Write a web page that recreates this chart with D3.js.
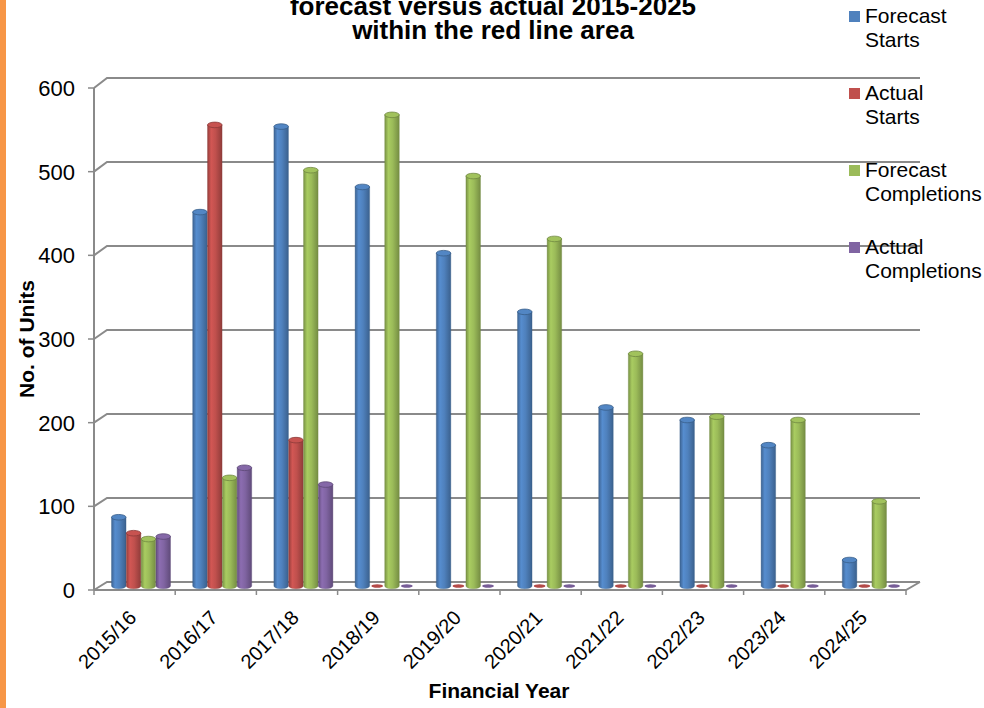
<!DOCTYPE html>
<html>
<head>
<meta charset="utf-8">
<script src="https://cdn.jsdelivr.net/npm/d3@7"></script>
<style>
  body { margin: 0; background: #fff; }
  svg { display: block; font-family: "Liberation Sans", Arial, sans-serif; }
</style>
</head>
<body>
<svg width="984" height="708"></svg>
<script>
// data
var years = ["2015/16","2016/17","2017/18","2018/19","2019/20","2020/21","2021/22","2022/23","2023/24","2024/25"];
var forecastStarts = [82, 446, 548, 476, 397, 327, 213, 198, 168, 31];
var actualStarts = [63, 550, 174, 0, 0, 0, 0, 0, 0, 0];
var forecastCompletions = [56, 129, 496, 562, 489, 414, 277, 202, 198, 101];
var actualCompletions = [59, 141, 121, 0, 0, 0, 0, 0, 0, 0];
var seriesNames = ["Forecast Starts", "Actual Starts", "Forecast Completions", "Actual Completions"];
var yTicks = [0, 100, 200, 300, 400, 500, 600];

var colors = ["#4F81BD", "#C0504D", "#9BBB59", "#8064A2"];
var allSeries = [forecastStarts, actualStarts, forecastCompletions, actualCompletions];

var svg = d3.select("svg");

// depth of the 3d box
var dx = 13, dy = -9;
var gridCol = "#8a8a8a";

var xScale = d3.scaleBand().domain(years).range([94, 906]);
var yFront = d3.scaleLinear().domain([0, 600]).range([590, 88]);
var yBack = d3.scaleLinear().domain([0, 600]).range([582, 78]);
var yMid = d3.scaleLinear().domain([0, 600]).range([586, 83]);
var sScale = d3.scaleBand().domain(seriesNames).range([11, 70]).paddingInner(0.02);

// orange strip on the left
svg.append("rect").attr("x", 0).attr("y", 0).attr("width", 6).attr("height", 708).attr("fill", "#F79646");

// gradients for the cylinders
var defs = svg.append("defs");
colors.forEach(function(c, i) {
  var base = d3.color(c);
  var g = defs.append("linearGradient").attr("id", "cyl" + i).attr("x1", "0%").attr("x2", "100%");
  g.append("stop").attr("offset", "0%").attr("stop-color", base.darker(0.7));
  g.append("stop").attr("offset", "25%").attr("stop-color", base.brighter(0.25));
  g.append("stop").attr("offset", "55%").attr("stop-color", base);
  g.append("stop").attr("offset", "100%").attr("stop-color", base.darker(0.8));
});

var x0 = xScale.range()[0], x1 = xScale.range()[1];

// back wall gridlines + diagonals
var grid = svg.append("g");
yTicks.forEach(function(t) {
  grid.append("path")
    .attr("d", "M" + x0 + "," + yFront(t) + "L" + (x0 + dx) + "," + yBack(t) + "L" + (x1 + dx + 1) + "," + yBack(t))
    .attr("fill", "none").attr("stroke", gridCol).attr("stroke-width", 2);
  grid.append("line")
    .attr("x1", x0 - 6).attr("x2", x0).attr("y1", yFront(t)).attr("y2", yFront(t))
    .attr("stroke", gridCol).attr("stroke-width", 1.5);
  svg.append("text")
    .attr("x", 75).attr("y", yFront(t) + 8)
    .attr("text-anchor", "end").attr("font-size", 22).attr("fill", "#000")
    .text(t);
});

// left axis
grid.append("line").attr("x1", x0).attr("x2", x0).attr("y1", yFront(600)).attr("y2", yFront(0))
  .attr("stroke", gridCol).attr("stroke-width", 2);

// floor
grid.append("path")
  .attr("d", "M" + x0 + "," + yFront(0) + "L" + x1 + "," + yFront(0) + "L" + (x1 + dx + 1) + "," + yBack(0))
  .attr("fill", "none").attr("stroke", gridCol).attr("stroke-width", 2);

// category ticks
years.concat(["end"]).forEach(function(y, i) {
  var xx = i < years.length ? xScale(y) : x1;
  grid.append("line").attr("x1", xx).attr("x2", xx).attr("y1", yFront(0)).attr("y2", yFront(0) + 5)
    .attr("stroke", gridCol).attr("stroke-width", 1.5);
});

// bars
var bars = svg.append("g");
var ry = 2.8;
years.forEach(function(yr, i) {
  seriesNames.forEach(function(s, k) {
    var v = allSeries[k][i];
    var bx = xScale(yr) + dx / 2 + sScale(s);
    var bw = sScale.bandwidth();
    var cx = bx + bw / 2, rx = bw / 2;
    var yb = yMid(0), yt = yMid(v);
    var col = d3.color(colors[k]);
    if (v === 0) {
      bars.append("ellipse").attr("cx", cx).attr("cy", yb).attr("rx", rx * 0.8).attr("ry", 1.8)
        .attr("fill", col.darker(0.2));
      return;
    }
    bars.append("path")
      .attr("d", "M" + bx + "," + yt + "L" + bx + "," + yb +
        "A" + rx + "," + ry + " 0 0 0 " + (bx + bw) + "," + yb +
        "L" + (bx + bw) + "," + yt + "Z")
      .attr("fill", "url(#cyl" + k + ")")
      .attr("stroke", col.darker(0.9)).attr("stroke-width", 0.6).attr("stroke-opacity", 0.6);
    bars.append("ellipse").attr("cx", cx).attr("cy", yt).attr("rx", rx).attr("ry", ry)
      .attr("fill", col.brighter(0.1)).attr("stroke", col.darker(0.9)).attr("stroke-width", 0.8);
  });
});

// x tick labels
years.forEach(function(yr) {
  var cx = xScale(yr) + xScale.bandwidth() / 2 + 3;
  svg.append("text")
    .attr("transform", "translate(" + cx + ",619) rotate(-45)")
    .attr("text-anchor", "end").attr("font-size", 20).attr("fill", "#000")
    .text(yr);
});

// titles
svg.append("text").attr("x", 493).attr("y", 15).attr("text-anchor", "middle")
  .attr("font-size", 26).attr("font-weight", "bold").text("forecast versus actual 2015-2025");
svg.append("text").attr("x", 493).attr("y", 39).attr("text-anchor", "middle")
  .attr("font-size", 26).attr("font-weight", "bold").text("within the red line area");

svg.append("text").attr("transform", "translate(34,339) rotate(-90)").attr("text-anchor", "middle")
  .attr("font-size", 21).attr("font-weight", "bold").text("No. of Units");
svg.append("text").attr("x", 499).attr("y", 698).attr("text-anchor", "middle")
  .attr("font-size", 21).attr("font-weight", "bold").text("Financial Year");

// legend
var legend = svg.append("g").attr("transform", "translate(849,11)");
seriesNames.forEach(function(s, k) {
  var g = legend.append("g").attr("transform", "translate(0," + k * 77 + ")");
  g.append("rect").attr("width", 11).attr("height", 11).attr("fill", colors[k]);
  var words = s.split(" ");
  g.append("text").attr("x", 16).attr("y", 12).attr("font-size", 21).text(words[0]);
  g.append("text").attr("x", 16).attr("y", 36).attr("font-size", 21).text(words[1]);
});
</script>
</body>
</html>
